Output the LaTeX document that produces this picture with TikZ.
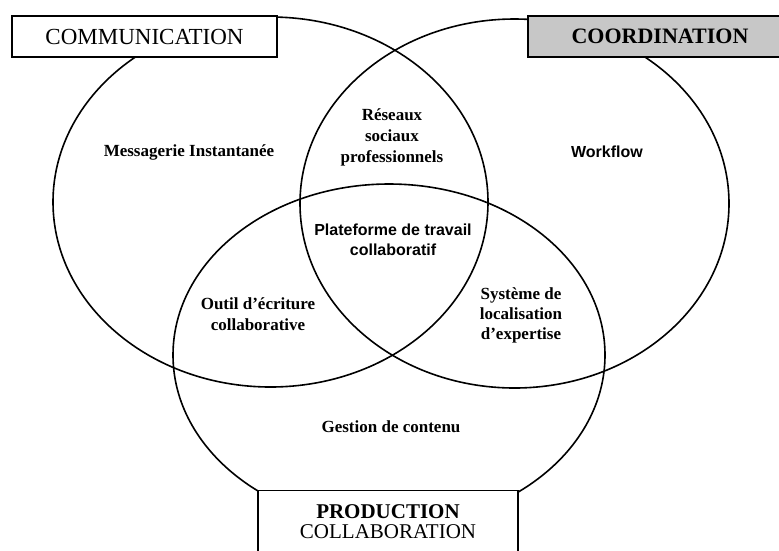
\documentclass[tikz,border=0pt]{standalone}
\usepackage{fontspec}
\setmainfont{Liberation Serif}
\newfontfamily\arialfont{Liberation Sans}
\usetikzlibrary{positioning}
\tikzstyle{zone} = [line width=1.6pt]
\tikzstyle{boite} = [draw, line width=1.4pt, fill=white, inner sep=0pt]
\tikzstyle{titre} = [align=center, font=\fontsize{23}{24}\selectfont]
\tikzstyle{etiquette} = [align=center, font=\bfseries\fontsize{17}{21}\selectfont]
\tikzstyle{etiqsans} = [align=center, font=\arialfont\bfseries\fontsize{16}{20}\selectfont]

\begin{document}
\begin{tikzpicture}[x=1pt, y=-1pt]
\useasboundingbox (0,0) rectangle (779,550);
% les trois zones
\draw[zone] (270.5,202) ellipse [x radius=217.5, y radius=185];
\draw[zone] (514.5,203.5) ellipse [x radius=214.5, y radius=184.5];
\draw[zone] (389,355) ellipse [x radius=216, y radius=171];

% titres
\node[boite, minimum width=265, minimum height=41] (comm) at (144.5,36.5) {};
\node[titre] (commtxt) at (comm.center) {COMMUNICATION};
\node[boite, fill=black!22, minimum width=254, minimum height=41] (coord) at (655,36.5) {};
\node[titre, font=\bfseries\fontsize{22}{24}\selectfont] (coordtxt) at (660,36.5) {COORDINATION};
\node[boite, minimum width=260, minimum height=80, anchor=north] (prod) at (388,490) {};
\node[titre, font=\fontsize{21}{20}\selectfont] (prodtxt) at (388,522) {\textbf{PRODUCTION}\\COLLABORATION};

% contenus
\node[etiquette] (messagerie) at (189,152) {Messagerie Instantanée};
\node[etiquette] (reseaux) at (392,137) {Réseaux\\sociaux\\professionnels};
\node[etiqsans] (workflow) at (607,152) {Workflow};
\node[etiqsans] (plateforme) at (393,240) {Plateforme de travail\\collaboratif};
\node[etiquette] (outil) at (258,314) {Outil d'écriture\\collaborative};
\node[etiquette, font=\bfseries\fontsize{17}{20}\selectfont] (systeme) at (521,315) {Système de\\localisation\\d'expertise};
\node[etiquette] (gestion) at (391,427) {Gestion de contenu};
\end{tikzpicture}
\end{document}
